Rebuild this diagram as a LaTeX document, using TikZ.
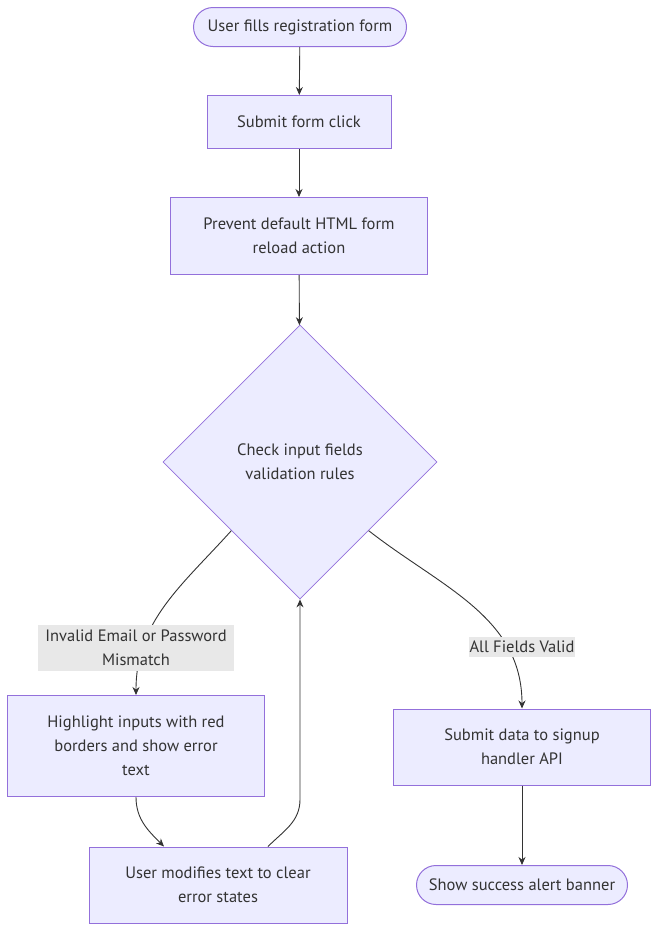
\documentclass[tikz,border=0pt]{standalone}
\usepackage{fontspec}
\setmainfont{PT Sans}
\usetikzlibrary{shapes,arrows.meta,positioning}

\definecolor{boxfill}{HTML}{ECECFF}
\definecolor{boxline}{HTML}{9370DB}
\definecolor{inktext}{HTML}{333333}
\definecolor{labelbg}{HTML}{E8E8E8}

\begin{document}
\begin{tikzpicture}[x=1pt, y=-1pt, font=\fontsize{16.5}{24}\selectfont, text=inktext]
    % Define styles
    \tikzstyle{terminal} = [rectangle, rounded corners=19.5pt, minimum height=39pt, inner sep=0pt, text centered, draw=boxline, fill=boxfill, line width=1pt]
    \tikzstyle{process} = [rectangle, inner sep=0pt, align=center, draw=boxline, fill=boxfill, line width=1pt]
    \tikzstyle{decision} = [diamond, aspect=1, minimum width=274pt, minimum height=274pt, inner sep=0pt, align=center, draw=boxline, fill=boxfill, line width=0.8pt]
    \tikzstyle{edgelabel} = [fill=labelbg, inner sep=1pt, align=center]
    \tikzstyle{arrow} = [line width=0.9pt, draw=inktext, -{Stealth[length=8pt,width=7pt]}]
    \useasboundingbox (0,0) rectangle (667,943);

    % Nodes
    \node [terminal, minimum width=213pt] (start) at (300,27) {User fills registration form};
    \node [process, minimum width=184pt, minimum height=53pt] (submit) at (299,122) {Submit form click};
    \node [process, minimum width=257pt, minimum height=77pt] (prevent) at (299,236) {Prevent default HTML form\\reload action};
    \node [decision] (check) at (300,462) {Check input fields\\validation rules};
    \node [process, minimum width=257pt, minimum height=101pt] (highlight) at (136,746) {Highlight inputs with red\\borders and show error\\text};
    \node [process, minimum width=258pt, minimum height=76pt] (modify) at (218,885) {User modifies text to clear\\error states};
    \node [process, minimum width=257pt, minimum height=76pt] (apicall) at (522,747) {Submit data to signup\\handler API};
    \node [terminal, minimum width=211pt] (success) at (522,885) {Show success alert banner};

    % Arrows
    \draw [arrow] (check.south west) to[out=228,in=90] (highlight.north);
    \draw [arrow] (start) -- (submit);
    \draw [arrow] (submit) -- (prevent);
    \draw [arrow] (prevent) -- (check);
    \draw [arrow] (check.south east) to[out=-38,in=90] (apicall.north);
    \draw [arrow] (highlight.south) to[out=-90,in=135] ([xshift=-54pt]modify.north);
    \draw [arrow] ([xshift=50pt]modify.north) to[out=45,in=-90] ([yshift=-200pt]check.south) -- (check.south);
    \draw [arrow] (apicall) -- (success);

    % Labels
    \node [edgelabel, minimum width=196pt, minimum height=46pt] (invalid) at (136,648) {Invalid Email or Password\\Mismatch};
    \node [edgelabel, minimum width=104pt, minimum height=20pt] (valid) at (522,647) {All Fields Valid};
\end{tikzpicture}
\end{document}
